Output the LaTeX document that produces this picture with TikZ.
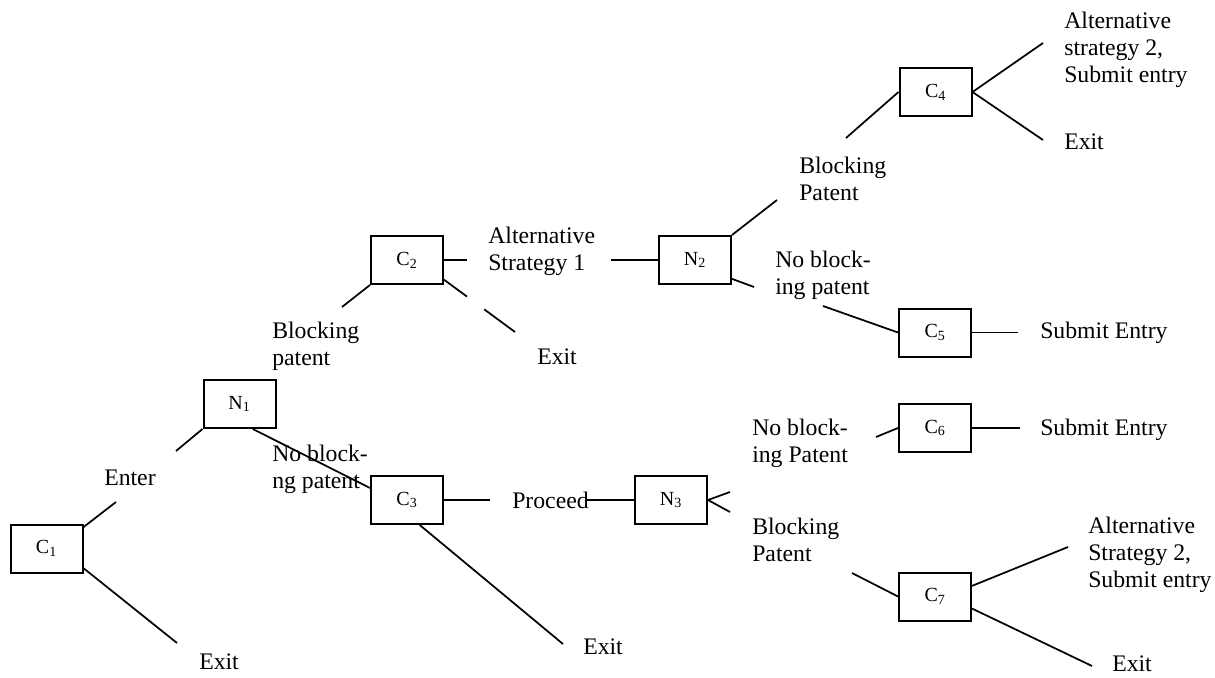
\documentclass[tikz,border=0pt]{standalone}
\usepackage{fontspec}
\setmainfont{Liberation Serif}

\tikzset{
  decbox/.style={draw, line width=1.5pt, minimum width=54pt, minimum height=36pt, inner sep=0pt, font=\fontsize{15}{17}\selectfont},
  lbl/.style={anchor=west, inner sep=0pt, align=left, font=\fontsize{17.8}{20.25}\selectfont},
  branch/.style={line width=1.3pt}
}

\begin{document}
\begin{tikzpicture}[x=0.75pt,y=0.75pt,yscale=-1,xscale=1]
\path[use as bounding box] (0,0) rectangle (1215,678);

%Boxes
\node[decbox] (c1) at (46.5,548.5) {C\textsubscript{1}};
\node[decbox] (n1) at (239.5,404) {N\textsubscript{1}};
\node[decbox] (c2) at (407,260) {C\textsubscript{2}};
\node[decbox] (c3) at (407,500) {C\textsubscript{3}};
\node[decbox] (n2) at (695,260) {N\textsubscript{2}};
\node[decbox] (n3) at (671,500) {N\textsubscript{3}};
\node[decbox] (c4) at (935.5,92) {C\textsubscript{4}};
\node[decbox] (c5) at (935,332.5) {C\textsubscript{5}};
\node[decbox] (c6) at (935,428) {C\textsubscript{6}};
\node[decbox] (c7) at (935,596.5) {C\textsubscript{7}};

%Free ends
\coordinate (enterend) at (116,502);
\coordinate (n1in) at (176,451);
\coordinate (exit1end) at (177,643);
\coordinate (blk1end) at (342,307);
\coordinate (alt1end) at (467,260);
\coordinate (exit2end) at (515,332);
\coordinate (n2in) at (611,260);
\coordinate (blk2end) at (777,200);
\coordinate (noblk2end) at (754,287);
\coordinate (c4in) at (846,138);
\coordinate (alt4end) at (1043,43);
\coordinate (exit4end) at (1043,140);
\coordinate (c5in) at (823,306);
\coordinate (sub5end) at (1018,332.5);
\coordinate (proceedend) at (490,500);
\coordinate (n3in) at (587,500);
\coordinate (exit3end) at (563,644);
\coordinate (noblk3end) at (730,492);
\coordinate (blk3end) at (730,512);
\coordinate (c6in) at (876,437);
\coordinate (sub6end) at (1020,428);
\coordinate (c7in) at (852,573);
\coordinate (alt7end) at (1068,547);
\coordinate (exit7end) at (1092,666);

%Branches
\draw[branch] (c1.30) -- (enterend);
\draw[branch] (n1in) -- (n1.south west);
\draw[branch] (c1.-28) -- (exit1end);
\draw[branch] (n1.-62) -- (c3.162);
\draw[branch] (c2.south west) -- (blk1end);
\draw[branch] (c2.east) -- (alt1end);
\draw[branch, dash pattern=on 21.4pt off 16.1pt on 40pt] (c2.-28) -- (exit2end);
\draw[branch] (n2in) -- (n2.west);
\draw[branch] (n2.north east) -- (blk2end);
\draw[branch] (n2.-27) -- (noblk2end);
\draw[branch] (c4in) -- (c4.west);
\draw[branch] (c4.east) -- (alt4end);
\draw[branch] (c4.east) -- (exit4end);
\draw[branch] (c5in) -- (c5.west);
\draw[branch] (c5.east) -- (sub5end);
\draw[branch] (c3.east) -- (proceedend);
\draw[branch] (n3in) -- (n3.west);
\draw[branch] (c3.-63) -- (exit3end);
\draw[branch] (n3.east) -- (noblk3end);
\draw[branch] (n3.east) -- (blk3end);
\draw[branch] (c6in) -- (c6.west);
\draw[branch] (c6.east) -- (sub6end);
\draw[branch] (c7in) -- (c7.west);
\draw[branch] (c7.16) -- (alt7end);
\draw[branch] (c7.-18) -- (exit7end);

%Labels
\node[lbl] (enter) at (104,478) {Enter};
\node[lbl] (exit1) at (199,662) {Exit};
\node[lbl] (blk1) at (272,346.5) {Blocking\\patent};
\node[lbl] (noblk1) at (272,469) {No block-\\ng patent};
\node[lbl] (alt1) at (488,251.5) {Alternative\\Strategy 1};
\node[lbl] (exit2) at (537,357) {Exit};
\node[lbl] (proceed) at (512,500) {Proceed};
\node[lbl] (exit3) at (583,647) {Exit};
\node[lbl] (blk2) at (799,178.5) {Blocking\\Patent};
\node[lbl] (noblk2) at (775,275.5) {No block-\\ing patent};
\node[lbl] (alt4) at (1064,50) {Alternative\\strategy 2,\\Submit entry};
\node[lbl] (exit4) at (1064,142) {Exit};
\node[lbl] (sub5) at (1040,333) {Submit Entry};
\node[lbl] (noblk3) at (752,443.5) {No block-\\ing Patent};
\node[lbl] (blk3) at (752,539.5) {Blocking\\Patent};
\node[lbl] (sub6) at (1040,430) {Submit Entry};
\node[lbl] (alt7) at (1088,555) {Alternative\\Strategy 2,\\Submit entry};
\node[lbl] (exit7) at (1112,664) {Exit};

\end{tikzpicture}
\end{document}
